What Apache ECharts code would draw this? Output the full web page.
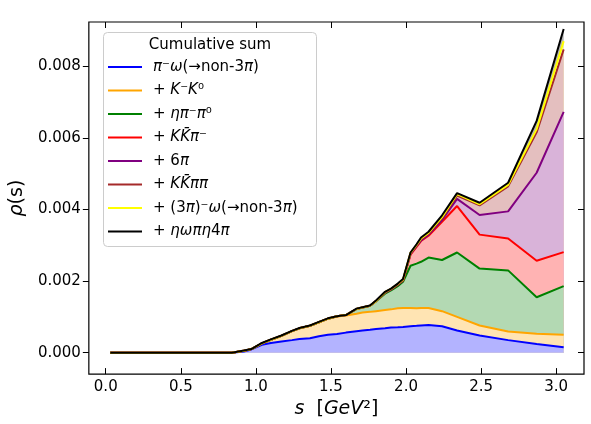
<!DOCTYPE html>
<html>
<head>
<meta charset="utf-8">
<script src="https://cdn.jsdelivr.net/npm/echarts@6/dist/echarts.min.js"></script>
<style>
  html, body { margin: 0; padding: 0; background: #fff; }
  #chart { width: 591px; height: 424px; }
</style>
</head>
<body>
<div id="chart"></div>
<script>
// s values (GeV^2)
var sVals = [0.03, 0.84, 0.92, 0.97, 1.04, 1.10, 1.17, 1.24, 1.29, 1.36, 1.42, 1.48, 1.54, 1.60, 1.67, 1.71,
  1.76, 1.80, 1.86, 1.90, 1.945, 1.98, 2.03, 2.07, 2.10, 2.15, 2.24, 2.34, 2.49, 2.68, 2.87, 3.05];

// cumulative sums
var cumPiOmega = [0, 0, 0.00003, 0.00009, 0.00022, 0.00027, 0.00031, 0.00035, 0.00038, 0.00040, 0.00046, 0.00050, 0.00052, 0.00056, 0.00060, 0.00062,
  0.00064, 0.00066, 0.00068, 0.00070, 0.00071, 0.00072, 0.00074, 0.00075, 0.00076, 0.00077, 0.00074, 0.00062, 0.00048, 0.00035, 0.00024, 0.00015];
var cumKK = [0, 0, 0.00005, 0.00010, 0.00026, 0.00036, 0.00047, 0.00060, 0.00068, 0.00075, 0.00085, 0.00095, 0.00101, 0.00104, 0.00109, 0.00112,
  0.00114, 0.00116, 0.00119, 0.00121, 0.00124, 0.00125, 0.00125, 0.00124, 0.00125, 0.00125, 0.00116, 0.00100, 0.00076, 0.00059, 0.00053, 0.00050];
var cumEtaPiPi = [0, 0, 0.00005, 0.00010, 0.00026, 0.00036, 0.00047, 0.00060, 0.00068, 0.00075, 0.00085, 0.00095, 0.00102, 0.00105, 0.00122, 0.00126,
  0.00131, 0.00144, 0.00165, 0.00174, 0.00186, 0.00198, 0.00243, 0.00249, 0.00254, 0.00266, 0.00259, 0.00280, 0.00235, 0.00230, 0.00155, 0.00186];
var cumKKPi = [0, 0, 0.00005, 0.00010, 0.00026, 0.00036, 0.00047, 0.00060, 0.00068, 0.00075, 0.00085, 0.00095, 0.00102, 0.00105, 0.00122, 0.00126,
  0.00131, 0.00144, 0.00168, 0.00177, 0.00190, 0.00202, 0.00274, 0.00296, 0.00312, 0.00327, 0.00366, 0.00410, 0.00330, 0.00319, 0.00257, 0.00281];
var cum6Pi = [0, 0, 0.00005, 0.00010, 0.00026, 0.00036, 0.00047, 0.00060, 0.00068, 0.00075, 0.00085, 0.00095, 0.00102, 0.00105, 0.00122, 0.00126,
  0.00131, 0.00144, 0.00168, 0.00177, 0.00190, 0.00202, 0.00276, 0.00298, 0.00314, 0.00330, 0.00371, 0.00430, 0.00385, 0.00395, 0.00503, 0.00673];
var cumKKPiPi = [0, 0, 0.00005, 0.00010, 0.00026, 0.00036, 0.00047, 0.00060, 0.00068, 0.00075, 0.00085, 0.00095, 0.00102, 0.00105, 0.00122, 0.00126,
  0.00131, 0.00144, 0.00169, 0.00178, 0.00191, 0.00203, 0.00278, 0.00300, 0.00317, 0.00333, 0.00376, 0.00439, 0.00412, 0.00465, 0.00616, 0.00848];
var cum3PiOmega = [0, 0, 0.00005, 0.00010, 0.00026, 0.00036, 0.00047, 0.00060, 0.00068, 0.00075, 0.00085, 0.00095, 0.00102, 0.00105, 0.00122, 0.00126,
  0.00131, 0.00144, 0.00169, 0.00178, 0.00192, 0.00204, 0.00279, 0.00301, 0.00319, 0.00335, 0.00379, 0.00443, 0.00415, 0.00469, 0.00625, 0.00871];
var cumEtaOmega = [0, 0, 0.00006, 0.00010, 0.00027, 0.00037, 0.00048, 0.00061, 0.00069, 0.00076, 0.00086, 0.00096, 0.00102, 0.00105, 0.00123, 0.00127,
  0.00132, 0.00146, 0.00170, 0.00179, 0.00193, 0.00206, 0.00280, 0.00303, 0.00322, 0.00338, 0.00384, 0.00446, 0.00419, 0.00475, 0.00648, 0.00905];

var xTicks = [0, 0.5, 1.0, 1.5, 2.0, 2.5, 3.0];
var yTicks = [0, 0.002, 0.004, 0.006, 0.008];

var layerNames = ['piomega', 'kk0', 'etapipi', 'kkpi', '6pi', 'kkpipi', '3piomega', 'etaomega'];
var layerLabels = [
  '{i|π}⁻{i|ω}(→non-3{i|π})',
  '+ {i|K}⁻{i|K}⁰',
  '+ {i|ηπ}⁻{i|π}⁰',
  '+ {i|KK\u0304π}⁻',
  '+ 6{i|π}',
  '+ {i|KK\u0304ππ}',
  '+ (3{i|π})⁻{i|ω}(→non-3{i|π})',
  '+ {i|ηωπη}4{i|π}'
];
var lineColors = ['#0000ff', '#ffa500', '#008000', '#ff0000', '#800080', '#a52a2a', '#ffff00', '#000000'];
var fillColors = ['#b3b3ff', '#ffe4b3', '#b3d9b3', '#ffb3b3', '#d9b3d9', '#e4bfbf', '#ffffb3', '#b3b3b3'];

var cums = [cumPiOmega, cumKK, cumEtaPiPi, cumKKPi, cum6Pi, cumKKPiPi, cum3PiOmega, cumEtaOmega];

function pairs(cum) {
  return sVals.map(function(s, i) { return [s, cum[i]]; });
}

// fills: each cumulative curve filled down to zero, biggest first so the
// smaller ones paint over it -> same look as fill_between of the layers
var fillSeries = cums.map(function(cum, k) {
  return {
    name: 'fill_' + layerNames[k],
    type: 'line',
    symbol: 'none',
    z: 1,
    lineStyle: { width: 0 },
    areaStyle: { color: fillColors[k], opacity: 1 },
    data: pairs(cum)
  };
}).reverse();

var lineSeries = cums.map(function(cum, k) {
  return {
    name: layerNames[k],
    type: 'line',
    symbol: 'none',
    z: 3,
    color: lineColors[k],
    itemStyle: { color: lineColors[k] },
    lineStyle: { color: lineColors[k], width: 2 },
    data: pairs(cum)
  };
});

var FONT = 'DejaVu Sans';
var chart = echarts.init(document.getElementById('chart'), null, { renderer: 'canvas' });

var option = {
  animation: false,
  backgroundColor: '#ffffff',
  textStyle: { fontFamily: FONT },
  grid: { left: 86, right: 7, top: 22, bottom: 41, show: true, borderColor: '#000', borderWidth: 1.2, backgroundColor: 'transparent' },
  xAxis: [{
    type: 'value', min: -0.1126, max: 3.1854,
    axisLine: { show: false, onZero: false },
    splitLine: { show: false },
    axisTick: { show: true, inside: true, length: 6, customValues: xTicks, lineStyle: { color: '#000' } },
    axisLabel: { customValues: xTicks, margin: 6, color: '#000', fontSize: 15, fontFamily: FONT,
      formatter: function(v) { return v.toFixed(1); } },
    name: '{i|s}  [{i|GeV}²]',
    nameLocation: 'middle',
    nameGap: 17,
    nameTextStyle: { color: '#000', fontSize: 19, fontFamily: FONT,
      rich: { i: { fontStyle: 'italic', fontSize: 19, fontFamily: FONT, color: '#000' } } }
  }, {
    type: 'value', min: -0.1126, max: 3.1854, position: 'top',
    axisLine: { show: false, onZero: false }, splitLine: { show: false },
    axisTick: { show: true, inside: true, length: 6, customValues: xTicks, lineStyle: { color: '#000' } },
    axisLabel: { show: false }
  }],
  yAxis: [{
    type: 'value', min: -0.0006, max: 0.009245,
    axisLine: { show: false, onZero: false },
    splitLine: { show: false },
    axisTick: { show: true, inside: false, length: 6, customValues: yTicks, lineStyle: { color: '#000' } },
    axisLabel: { customValues: yTicks, margin: 8, color: '#000', fontSize: 15, fontFamily: FONT,
      formatter: function(v) { return v.toFixed(3); } },
    name: '{i|ρ}(s)',
    nameLocation: 'middle',
    nameRotate: 90,
    nameGap: 50,
    nameTextStyle: { color: '#000', fontSize: 19, fontFamily: FONT,
      rich: { i: { fontStyle: 'italic', fontSize: 19, fontFamily: FONT, color: '#000' } } }
  }, {
    type: 'value', min: -0.0006, max: 0.009245, position: 'right',
    axisLine: { show: false, onZero: false }, splitLine: { show: false },
    axisTick: { show: true, inside: true, length: 6, customValues: yTicks, lineStyle: { color: '#000' } },
    axisLabel: { show: false }
  }],
  legend: {
    orient: 'vertical',
    left: 108, top: 59,
    padding: 0,
    itemWidth: 34, itemHeight: 2,
    itemGap: 7.5,
    icon: 'rect',
    selectedMode: false,
    z: 20,
    data: layerNames.map(function(n, k) { return { name: n, itemStyle: { color: lineColors[k] } }; }),
    formatter: function(name) { return layerLabels[layerNames.indexOf(name)]; },
    textStyle: {
      color: '#000', fontSize: 15, fontFamily: FONT, lineHeight: 16, padding: [0, 0, 0, 6],
      rich: { i: { fontStyle: 'italic', fontSize: 15, lineHeight: 16, fontFamily: FONT, color: '#000' } }
    }
  },
  graphic: [{
    type: 'rect', z: 10,
    shape: { x: 103.5, y: 32.5, width: 213, height: 214, r: 4 },
    style: { fill: '#fff', stroke: '#cccccc', lineWidth: 1 }
  }, {
    type: 'text', z: 11,
    x: 210, y: 45,
    style: { text: 'Cumulative sum', fill: '#000', font: '15px "DejaVu Sans"', align: 'center', verticalAlign: 'middle' }
  }],
  series: fillSeries.concat(lineSeries)
};

chart.setOption(option);
</script>
</body>
</html>
